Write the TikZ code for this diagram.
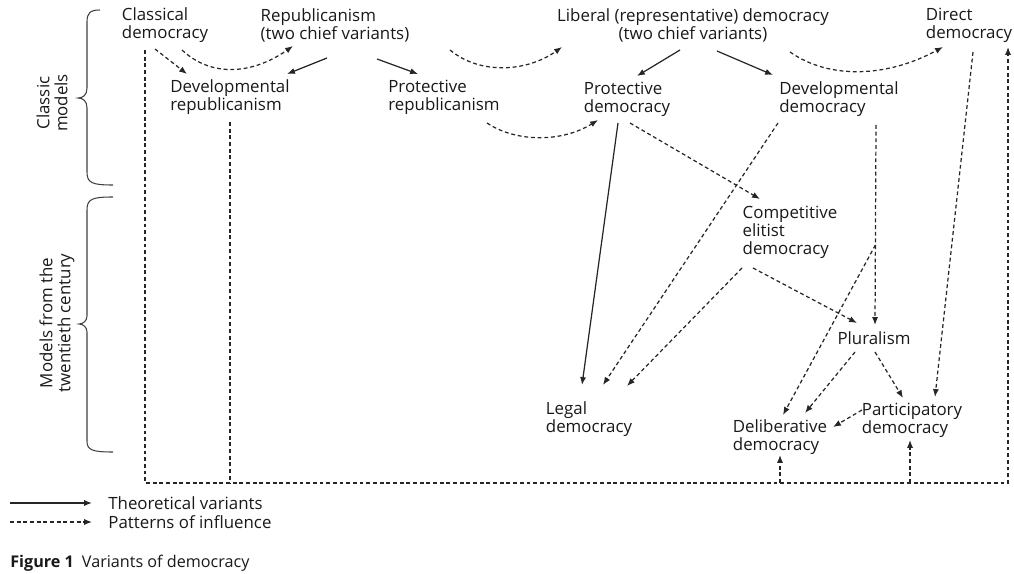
\documentclass[tikz,border=0pt]{standalone}
\usepackage{fontspec}
\setmainfont{Open Sans}
\usetikzlibrary{%
  calc,
  arrows.meta,
}

\begin{document}
\begin{tikzpicture}[%
           x=0.02cm, y=-0.02cm,
           model/.style={
             % The shape:
             rectangle,
             inner sep=0pt,
             % The text:
             align=left,
             font=\fontsize{9.6}{10.2}\selectfont,
             text=black!90,
           },
           variant/.style={
             % a plain line with a small filled head
             -{Latex[length=4.5pt,width=3.5pt]},
             line width=0.7pt,
             color=black!85,
           },
           influence/.style={
             variant,
             dash pattern=on 2.2pt off 1.6pt,
           },
           brace/.style={
             line width=0.6pt,
             color=black!75,
           },
         ]
         \useasboundingbox (0,0) rectangle (1014,574);

         % classic models
         \node[model] (classical) at (165,25) {Classical\\democracy};
         \node[model] (repub) at (335,25) {Republicanism\\(two chief variants)};
         \node[model, align=center] (liberal) at (693,25) {Liberal (representative) democracy\\(two chief variants)};
         \node[model] (direct) at (969,25) {Direct\\democracy};
         \node[model] (devrep) at (230,97) {Developmental\\republicanism};
         \node[model] (protrep) at (444,97) {Protective\\republicanism};
         \node[model] (protdem) at (627,99) {Protective\\democracy};
         \node[model] (devdem) at (839,99) {Developmental\\democracy};

         % models from the twentieth century
         \node[model] (compelit) at (790,232) {Competitive\\elitist\\democracy};
         \node[model] (plural) at (874,338) {Pluralism};
         \node[model] (legal) at (589,419) {Legal\\democracy};
         \node[model] (delib) at (780,437) {Deliberative\\democracy};
         \node[model] (partic) at (912,420) {Participatory\\democracy};

         % theoretical variants
         \draw[variant] ($ (repub) + (-8,33) $) -- ($ (devrep) + (57,-23) $);
         \draw[variant] ($ (repub) + (42,34) $) -- ($ (protrep) + (-26,-23) $);
         \draw[variant] ($ (liberal) + (-13,25) $) -- ($ (protdem) + (10,-23) $);
         \draw[variant] ($ (liberal) + (24,26) $) -- ($ (devdem) + (-66,-24) $);
         \draw[variant] ($ (protdem) + (-9,24) $) -- ($ (legal) + (-7,-34) $);

         % patterns of influence
         \draw[influence] ($ (classical) + (-10,24) $) -- ($ (devrep) + (-43,-23) $);
         \draw[influence] ($ (classical) + (17,25) $) .. controls +(30,28) and +(-40,28) .. ($ (repub) + (-42,21) $);
         \draw[influence] ($ (repub) + (115,25) $) .. controls +(30,25) and +(-35,25) .. ($ (liberal) + (-131,22) $);
         \draw[influence] ($ (protrep) + (43,26) $) .. controls +(30,20) and +(-35,22) .. ($ (protdem) + (-29,21) $);
         \draw[influence] ($ (liberal) + (97,27) $) .. controls +(40,28) and +(-55,30) .. ($ (direct) + (-26,22) $);
         \draw[influence] ($ (protdem) + (3,24) $) -- ($ (compelit) + (-30,-33) $);
         \draw[influence] ($ (devdem) + (-61,24) $) -- ($ (legal) + (14,-34) $);
         \draw[influence] ($ (compelit) + (-48,36) $) -- ($ (legal) + (38,-33) $);
         \draw[influence] ($ (compelit) + (-37,36) $) -- ($ (plural) + (-17,-15) $);
         \draw[influence] ($ (devdem) + (37,26) $) -- coordinate[pos=0.6] (fork) ($ (plural) + (1,-13) $);
         \draw[influence] (fork) -- ($ (delib) + (3,-22) $);
         \draw[influence] ($ (direct) + (4,27) $) -- ($ (partic) + (23,-23) $);
         \draw[influence] ($ (plural) + (-19,14) $) -- ($ (delib) + (25,-24) $);
         \draw[influence] ($ (plural) + (1,14) $) -- ($ (partic) + (-9,-22) $);
         \draw[influence] ($ (partic) + (-50,-10) $) -- ($ (delib) + (53,-10) $);

         % the long way round, along the bottom
         \coordinate (baseL) at (145,483);
         \coordinate (baseR) at (1008,483);
         \draw[influence] ($ (classical) + (-20,25) $) -- (baseL) -- (baseR) -- ($ (direct) + (39,22) $);
         \draw[influence, -] ($ (devrep) + (0,25) $) -- (devrep |- baseL);
         \draw[influence] (delib |- baseL) -- ($ (delib) + (0,18) $);
         \draw[influence] ($ (partic |- baseL) + (-2,0) $) -- ($ (partic) + (-2,20) $);

         % the two periods
         \draw[brace] (113,185) .. controls (92,185) and (87,183) .. (87,172) -- (87,108)
           .. controls (87,101) and (83,98) .. (78,98) .. controls (83,98) and (87,95) .. (87,88)
           -- (87,22) .. controls (87,13) and (90,10) .. (100,10);
         \node[model, rotate=90, align=center] (classic) at (52,103) {Classic\\models};
         \draw[brace] (113,197) .. controls (92,197) and (87,199) .. (87,210) -- (87,316)
           .. controls (87,321) and (83,324) .. (79,324) .. controls (83,324) and (87,327) .. (87,332)
           -- (87,441) .. controls (87,450) and (92,452) .. (113,452);
         \node[model, rotate=90, align=center] (modern) at (57,323) {Models from the\\twentieth century};

         % key
         \node[model, anchor=west] (legvar) at (108,503) {Theoretical variants};
         \node[model, anchor=west] (leginf) at (108,522) {Patterns of influence};
         \coordinate (legvarstart) at (10,503);
         \coordinate (leginfstart) at (10,522);
         \draw[variant] (legvarstart) -- ($ (legvar.west) + (-16,0) $);
         \draw[influence] (leginfstart) -- ($ (leginf.west) + (-16,0) $);

         \node[model, anchor=west, font=\fontsize{9.2}{10}\selectfont] (caption) at (10,563)
           {\textbf{Figure 1}\enspace Variants of democracy};

     \end{tikzpicture}
\end{document}
